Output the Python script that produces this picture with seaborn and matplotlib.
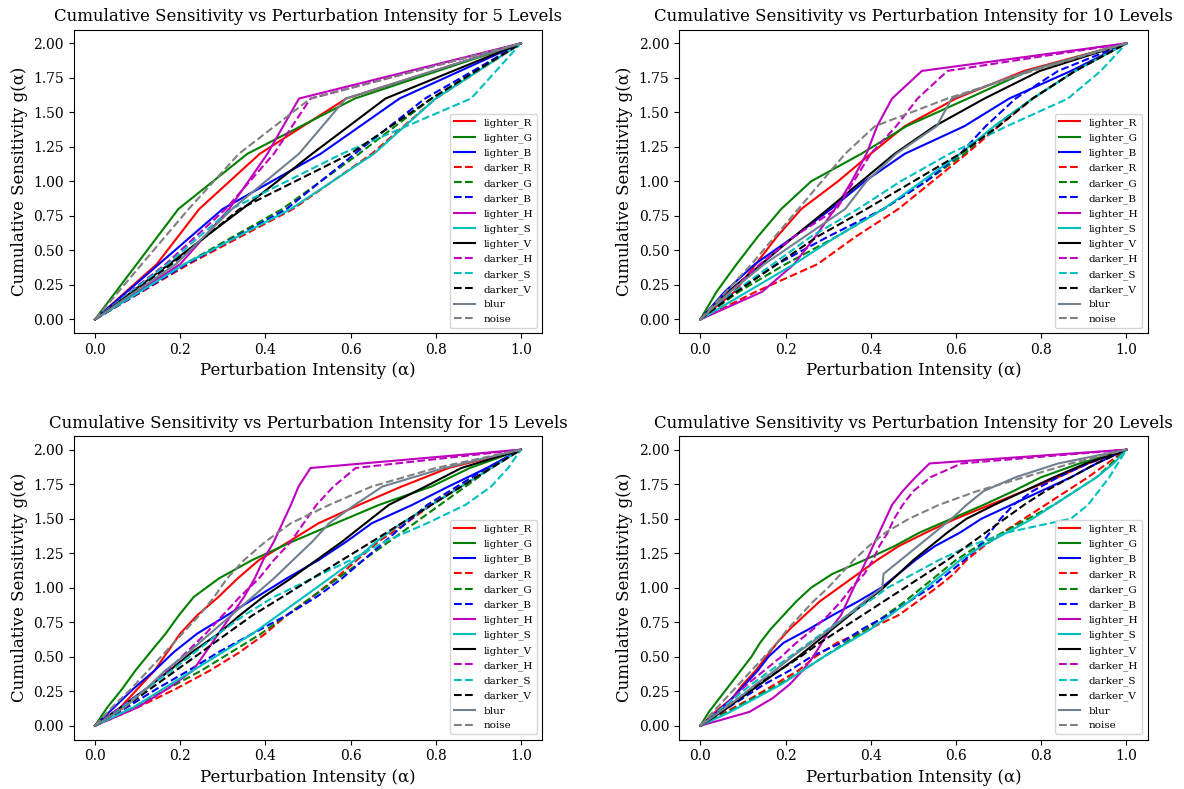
import matplotlib
matplotlib.use("Agg")
import matplotlib.pyplot as plt
import seaborn as sns
import pandas as pd

plt.rcParams['font.family'] = ['DejaVu Serif']

SERIES = ["lighter_R", "lighter_G", "lighter_B", "darker_R", "darker_G", "darker_B",
          "lighter_H", "lighter_S", "lighter_V", "darker_H", "darker_S", "darker_V",
          "blur", "noise"]
COLORS = ["red", "green", "blue", "red", "green", "blue",
          "m", "c", "black", "m", "c", "black", "slategray", "gray"]
STYLES = ["-", "-", "-", "--", "--", "--", "-", "-", "-", "--", "--", "--", "-", "--"]

LEVELS = [5, 10, 15, 20]

# cumulative sensitivity values g(alpha) for each level count
Y5 = [0, 0.4, 0.8, 1.2, 1.6, 2.0]
Y10 = [0, 0.2, 0.4, 0.6, 0.8, 1.0, 1.2, 1.4, 1.6, 1.8, 2.0]
Y15 = [0, 0.133, 0.267, 0.4, 0.533, 0.667, 0.8, 0.933, 1.067, 1.2, 1.333,
       1.467, 1.6, 1.733, 1.867, 2.0]
Y20 = [0, 0.1, 0.2, 0.3, 0.4, 0.5, 0.6, 0.7, 0.8, 0.9, 1.0,
       1.1, 1.2, 1.3, 1.4, 1.5, 1.6, 1.7, 1.8, 1.9, 2.0]

# perturbation intensity values (alpha) per series
X5 = {
    "lighter_R": [0, 0.145, 0.245, 0.387, 0.59, 1],
    "lighter_G": [0, 0.098, 0.196, 0.358, 0.61, 1],
    "lighter_B": [0, 0.15, 0.30, 0.53, 0.715, 1],
    "darker_R": [0, 0.22, 0.465, 0.65, 0.80, 1],
    "darker_G": [0, 0.21, 0.44, 0.62, 0.79, 1],
    "darker_B": [0, 0.215, 0.45, 0.61, 0.775, 1],
    "lighter_H": [0, 0.20, 0.315, 0.405, 0.479, 1],
    "lighter_S": [0, 0.21, 0.46, 0.655, 0.80, 1],
    "lighter_V": [0, 0.174, 0.346, 0.51, 0.682, 1],
    "darker_H": [0, 0.166, 0.307, 0.42, 0.506, 1],
    "darker_S": [0, 0.17, 0.32, 0.58, 0.883, 1],
    "darker_V": [0, 0.18, 0.34, 0.60, 0.79, 1],
    "blur": [0, 0.19, 0.322, 0.479, 0.589, 1],
    "noise": [0, 0.11, 0.22, 0.338, 0.506, 1],
}

X10 = {
    "lighter_R": [0, 0.08, 0.13, 0.18, 0.237, 0.323, 0.40, 0.48, 0.60, 0.76, 1],
    "lighter_G": [0, 0.038, 0.085, 0.135, 0.19, 0.26, 0.378, 0.484, 0.628, 0.77, 1],
    "lighter_B": [0, 0.057, 0.128, 0.22, 0.307, 0.386, 0.48, 0.62, 0.725, 0.87, 1],
    "darker_R": [0, 0.13, 0.275, 0.365, 0.465, 0.545, 0.625, 0.70, 0.78, 0.88, 1],
    "darker_G": [0, 0.09, 0.20, 0.32, 0.43, 0.53, 0.62, 0.69, 0.78, 0.88, 1],
    "darker_B": [0, 0.08, 0.18, 0.30, 0.43, 0.53, 0.61, 0.67, 0.74, 0.84, 1],
    "lighter_H": [0, 0.145, 0.22, 0.27, 0.316, 0.355, 0.39, 0.415, 0.45, 0.52, 1],
    "lighter_S": [0, 0.11, 0.22, 0.32, 0.43, 0.52, 0.61, 0.69, 0.78, 0.88, 1],
    "lighter_V": [0, 0.065, 0.143, 0.22, 0.30, 0.378, 0.456, 0.55, 0.667, 0.797, 1],
    "darker_H": [0, 0.07, 0.14, 0.22, 0.32, 0.36, 0.40, 0.46, 0.51, 0.58, 1],
    "darker_S": [0, 0.08, 0.17, 0.26, 0.37, 0.47, 0.585, 0.72, 0.863, 0.94, 1],
    "darker_V": [0, 0.085, 0.18, 0.275, 0.39, 0.50, 0.61, 0.70, 0.78, 0.88, 1],
    "blur": [0, 0.07, 0.15, 0.245, 0.34, 0.39, 0.46, 0.555, 0.59, 0.77, 1],
    "noise": [0, 0.06, 0.12, 0.175, 0.23, 0.285, 0.34, 0.41, 0.58, 0.78, 1],
}

X15 = {
    "lighter_R": [0, 0.06, 0.10, 0.14, 0.17, 0.20, 0.24, 0.29, 0.335, 0.385, 0.455,
                  0.525, 0.62, 0.72, 0.83, 1],
    "lighter_G": [0, 0.029, 0.064, 0.095, 0.13, 0.166, 0.197, 0.232, 0.291, 0.369, 0.463,
                  0.565, 0.667, 0.79, 0.88, 1],
    "lighter_B": [0, 0.045, 0.09, 0.14, 0.185, 0.24, 0.31, 0.38, 0.45, 0.525, 0.59,
                  0.65, 0.745, 0.83, 0.92, 1],
    "darker_R": [0, 0.10, 0.19, 0.27, 0.34, 0.40, 0.45, 0.51, 0.565, 0.615, 0.665,
                 0.73, 0.79, 0.86, 0.93, 1],
    "darker_G": [0, 0.09, 0.17, 0.25, 0.32, 0.39, 0.45, 0.51, 0.57, 0.63, 0.69,
                 0.75, 0.81, 0.87, 0.93, 1],
    "darker_B": [0, 0.075, 0.145, 0.22, 0.29, 0.37, 0.45, 0.52, 0.58, 0.63, 0.68,
                 0.73, 0.78, 0.85, 0.92, 1],
    "lighter_H": [0, 0.10, 0.17, 0.23, 0.26, 0.29, 0.32, 0.35, 0.375, 0.395, 0.42,
                  0.44, 0.46, 0.478, 0.506, 1],
    "lighter_S": [0, 0.09, 0.16, 0.23, 0.30, 0.37, 0.43, 0.49, 0.55, 0.61, 0.66,
                  0.72, 0.79, 0.86, 0.93, 1],
    "lighter_V": [0, 0.06, 0.12, 0.175, 0.228, 0.29, 0.34, 0.395, 0.46, 0.52, 0.58,
                  0.635, 0.69, 0.776, 0.86, 1],
    "darker_H": [0, 0.06, 0.12, 0.17, 0.215, 0.26, 0.30, 0.34, 0.385, 0.42, 0.46,
                 0.49, 0.52, 0.56, 0.612, 1],
    "darker_S": [0, 0.065, 0.12, 0.18, 0.235, 0.29, 0.35, 0.42, 0.51, 0.60, 0.68,
                 0.78, 0.87, 0.93, 0.97, 1],
    "darker_V": [0, 0.07, 0.13, 0.19, 0.25, 0.31, 0.37, 0.44, 0.51, 0.58, 0.65,
                 0.72, 0.79, 0.86, 0.93, 1],
    "blur": [0, 0.07, 0.12, 0.165, 0.22, 0.27, 0.32, 0.37, 0.42, 0.465, 0.51,
             0.55, 0.61, 0.675, 0.82, 1],
    "noise": [0, 0.04, 0.085, 0.125, 0.165, 0.205, 0.245, 0.28, 0.31, 0.35, 0.40,
              0.46, 0.55, 0.65, 0.80, 1],
}

X20 = {
    "lighter_R": [0, 0.035, 0.075, 0.10, 0.13, 0.155, 0.18, 0.21, 0.245, 0.28, 0.325,
                  0.37, 0.415, 0.465, 0.53, 0.60, 0.68, 0.76, 0.84, 0.91, 1],
    "lighter_G": [0, 0.02, 0.045, 0.07, 0.095, 0.12, 0.14, 0.165, 0.195, 0.225, 0.26,
                  0.31, 0.385, 0.455, 0.515, 0.59, 0.665, 0.735, 0.80, 0.89, 1],
    "lighter_B": [0, 0.04, 0.075, 0.105, 0.135, 0.16, 0.195, 0.255, 0.31, 0.37, 0.425,
                  0.465, 0.505, 0.55, 0.61, 0.66, 0.73, 0.80, 0.87, 0.93, 1],
    "darker_R": [0, 0.06, 0.12, 0.175, 0.23, 0.27, 0.32, 0.395, 0.465, 0.51, 0.555,
                 0.595, 0.625, 0.665, 0.71, 0.76, 0.81, 0.86, 0.91, 0.955, 1],
    "darker_G": [0, 0.065, 0.125, 0.185, 0.24, 0.29, 0.34, 0.39, 0.435, 0.48, 0.52,
                 0.56, 0.60, 0.65, 0.71, 0.77, 0.83, 0.88, 0.93, 0.965, 1],
    "darker_B": [0, 0.05, 0.10, 0.15, 0.21, 0.26, 0.33, 0.38, 0.44, 0.49, 0.54,
                 0.58, 0.62, 0.655, 0.68, 0.705, 0.735, 0.78, 0.84, 0.91, 1],
    "lighter_H": [0, 0.115, 0.17, 0.21, 0.24, 0.265, 0.285, 0.305, 0.33, 0.345, 0.36,
                  0.375, 0.39, 0.405, 0.42, 0.435, 0.45, 0.475, 0.505, 0.538, 1],
    "lighter_S": [0, 0.07, 0.13, 0.19, 0.24, 0.29, 0.345, 0.40, 0.445, 0.49, 0.53,
                  0.57, 0.61, 0.66, 0.72, 0.78, 0.83, 0.88, 0.93, 0.97, 1],
    "lighter_V": [0, 0.05, 0.095, 0.14, 0.185, 0.23, 0.27, 0.31, 0.35, 0.39, 0.43,
                  0.465, 0.50, 0.54, 0.58, 0.625, 0.69, 0.76, 0.83, 0.905, 1],
    "darker_H": [0, 0.04, 0.075, 0.11, 0.15, 0.19, 0.225, 0.265, 0.30, 0.33, 0.355,
                 0.385, 0.405, 0.42, 0.44, 0.455, 0.475, 0.50, 0.54, 0.613, 1],
    "darker_S": [0, 0.04, 0.08, 0.12, 0.165, 0.21, 0.255, 0.30, 0.345, 0.395, 0.44,
                 0.50, 0.56, 0.63, 0.72, 0.87, 0.91, 0.935, 0.96, 0.98, 1],
    "darker_V": [0, 0.045, 0.09, 0.135, 0.185, 0.235, 0.28, 0.33, 0.38, 0.43, 0.48,
                 0.53, 0.58, 0.625, 0.67, 0.715, 0.76, 0.81, 0.87, 0.93, 1],
    "blur": [0, 0.045, 0.09, 0.13, 0.175, 0.215, 0.26, 0.305, 0.345, 0.385, 0.427,
             0.43, 0.47, 0.51, 0.55, 0.59, 0.625, 0.665, 0.74, 0.84, 1],
    "noise": [0, 0.03, 0.06, 0.09, 0.12, 0.15, 0.18, 0.205, 0.235, 0.265, 0.30,
              0.33, 0.36, 0.395, 0.435, 0.49, 0.56, 0.65, 0.76, 0.87, 1],
}

PANELS = [(5, X5, Y5), (10, X10, Y10), (15, X15, Y15), (20, X20, Y20)]

fig, axes = plt.subplots(2, 2, figsize=(11.84, 7.89), dpi=100)
fig.subplots_adjust(left=0.0622, right=0.9693, top=0.9626, bottom=0.0627,
                    wspace=0.292, hspace=0.338)

for ax, (n, xdict, yvals) in zip(axes.flat, PANELS):
    for name, color, ls in zip(SERIES, COLORS, STYLES):
        df = pd.DataFrame({"alpha": xdict[name], "g": yvals})
        sns.lineplot(data=df, x="alpha", y="g", ax=ax, color=color, linestyle=ls,
                     linewidth=1.5, label=name, sort=False, estimator=None)
    ax.set_title(f"Cumulative Sensitivity vs Perturbation Intensity for {n} Levels",
                 fontsize=12)
    ax.set_xlabel("Perturbation Intensity (α)", fontsize=12)
    ax.set_ylabel("Cumulative Sensitivity g(α)", fontsize=12)
    ax.set_xticks([0.0, 0.2, 0.4, 0.6, 0.8, 1.0])
    ax.set_yticks([0.0, 0.25, 0.5, 0.75, 1.0, 1.25, 1.5, 1.75, 2.0])
    ax.tick_params(labelsize=10)
    ax.legend(loc="lower right", fontsize=7.5)

fig.savefig("out.png", dpi=100)
